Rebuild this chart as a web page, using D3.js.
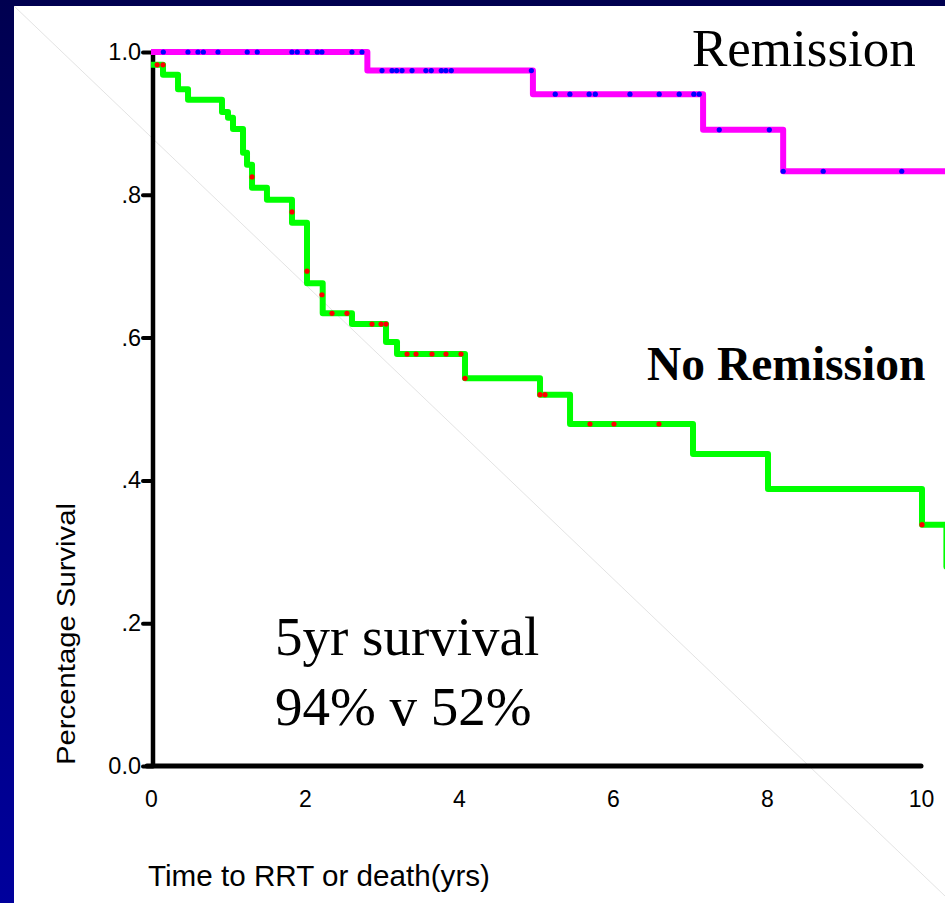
<!DOCTYPE html>
<html>
<head>
<meta charset="utf-8">
<script src="https://cdn.jsdelivr.net/npm/d3@7"></script>
<style>
  html, body { margin: 0; padding: 0; background: #fff; }
  svg { display: block; }
  .serif { font-family: "Times New Roman", "Liberation Serif", serif; }
  .sans { font-family: Arial, "Liberation Sans", sans-serif; }
</style>
</head>
<body>
<svg id="chart"></svg>
<script>
// axis ticks
const xTicks = [0, 2, 4, 6, 8, 10];
const xTickLabels = ['0', '2', '4', '6', '8', '10'];
const yTicks = [0, 0.2, 0.4, 0.6, 0.8, 1.0];
const yTickLabels = ['0.0', '.2', '.4', '.6', '.8', '1.0'];

// remission group: step times (yrs) and survival after each step
const remissionTimes = [0, 2.81, 4.96, 7.17, 8.21, 10.6];
const remissionSurv = [1.0, 0.974, 0.941, 0.891, 0.833, 0.833];
const remissionCensorTimes = [0.16, 0.48, 0.61, 0.68, 0.87, 1.25, 1.38, 1.83, 1.90, 2.03, 2.16, 2.22, 2.61, 2.74,
  3.0, 3.13, 3.19, 3.26, 3.39, 3.57, 3.64, 3.77, 3.83, 3.90, 4.94,
  5.25, 5.44, 5.69, 5.77, 6.22, 6.60, 6.86, 7.05, 7.12,
  7.38, 8.03, 8.21, 8.73, 9.75];
const remissionCensorSurv = [1, 1, 1, 1, 1, 1, 1, 1, 1, 1, 1, 1, 1, 1,
  0.974, 0.974, 0.974, 0.974, 0.974, 0.974, 0.974, 0.974, 0.974, 0.974, 0.974,
  0.941, 0.941, 0.941, 0.941, 0.941, 0.941, 0.941, 0.941, 0.941,
  0.891, 0.891, 0.833, 0.833, 0.833];

// no remission group
const noRemTimes = [0, 0.156, 0.351, 0.481, 0.922, 1.0, 1.065, 1.195, 1.247, 1.312, 1.506, 1.831, 2.026, 2.23,
  2.61, 3.052, 3.195, 4.078, 5.052, 5.442, 7.039, 8.013, 10.013, 10.33, 10.6];
const noRemSurv = [0.982, 0.968, 0.948, 0.933, 0.916, 0.908, 0.892, 0.859, 0.842, 0.810, 0.793, 0.761, 0.676, 0.634,
  0.619, 0.594, 0.577, 0.543, 0.520, 0.479, 0.437, 0.388, 0.338, 0.279, 0.279];
const noRemCensorTimes = [0.08, 0.156, 1.312, 1.831, 2.026, 2.22, 2.351, 2.545, 2.870, 2.987, 3.052,
  3.325, 3.442, 3.649, 3.831, 4.026, 4.078, 5.052, 5.117, 5.701, 6.013, 6.597, 10.013];
const noRemCensorSurv = [0.982, 0.982, 0.825, 0.776, 0.693, 0.660, 0.634, 0.634, 0.619, 0.619, 0.619,
  0.577, 0.577, 0.577, 0.577, 0.577, 0.543, 0.520, 0.520, 0.479, 0.479, 0.479, 0.338];

const W = 945, H = 903;

const svg = d3.select('#chart')
  .attr('width', W)
  .attr('height', H);

// slide frame
const defs = svg.append('defs');
const frame = defs.append('linearGradient')
  .attr('id', 'frame')
  .attr('x1', '0%').attr('x2', '0%')
  .attr('y1', '0%').attr('y2', '100%');
frame.append('stop').attr('offset', '0%').attr('stop-color', '#000050');
frame.append('stop').attr('offset', '100%').attr('stop-color', '#00009c');

svg.append('rect').attr('width', W).attr('height', H).attr('fill', 'url(#frame)');
svg.append('rect').attr('x', 14).attr('y', 6).attr('width', W - 14).attr('height', H - 6).attr('fill', '#fff');

// faint diagonal on the slide
svg.append('line')
  .attr('x1', 14).attr('y1', 6).attr('x2', W).attr('y2', 896)
  .attr('stroke', '#dcdcdc').attr('stroke-width', 0.8);

const x = d3.scaleLinear().domain([0, 10]).range([151, 921]);
const y = d3.scaleLinear().domain([0, 1]).range([766, 52]);

// y axis
const yAxis = svg.append('g')
  .attr('transform', `translate(${x(0) + 2},0)`)
  .call(d3.axisLeft(y)
    .tickValues(yTicks)
    .tickFormat((d, i) => yTickLabels[i])
    .tickSize(10)
    .tickPadding(2));
yAxis.select('.domain').remove();
yAxis.selectAll('.tick line')
  .attr('stroke', '#000')
  .attr('stroke-width', 4)
  .attr('stroke-linecap', 'round');
yAxis.selectAll('.tick text')
  .attr('class', 'sans')
  .style('font-size', '23.5px')
  .attr('fill', '#000')
  .attr('dy', '0.32em');
yAxis.append('line')
  .attr('x1', 0).attr('x2', 0)
  .attr('y1', y(1) - 1).attr('y2', y(0))
  .attr('stroke', '#000').attr('stroke-width', 4.5);

// x axis
const xAxis = svg.append('g')
  .attr('transform', `translate(0,${y(0)})`)
  .call(d3.axisBottom(x)
    .tickValues(xTicks)
    .tickFormat((d, i) => xTickLabels[i])
    .tickSize(0)
    .tickPadding(25));
xAxis.select('.domain').remove();
xAxis.selectAll('.tick text')
  .attr('class', 'sans')
  .style('font-size', '23px')
  .attr('fill', '#000');
xAxis.append('line')
  .attr('x1', x(0) - 4).attr('x2', x(10))
  .attr('y1', 0).attr('y2', 0)
  .attr('stroke', '#000').attr('stroke-width', 5)
  .attr('stroke-linecap', 'round');

// survival curves
const step = d3.line()
  .x(d => x(d[0]))
  .y(d => y(d[1]))
  .curve(d3.curveStepAfter);

svg.append('path')
  .datum(d3.zip(noRemTimes, noRemSurv))
  .attr('d', step)
  .attr('fill', 'none')
  .attr('stroke', '#00ff00')
  .attr('stroke-width', 6)
  .attr('stroke-linejoin', 'round');

svg.append('path')
  .datum(d3.zip(remissionTimes, remissionSurv))
  .attr('d', step)
  .attr('fill', 'none')
  .attr('stroke', '#ff00ff')
  .attr('stroke-width', 6)
  .attr('stroke-linejoin', 'round');

// censor marks
svg.append('g').selectAll('circle')
  .data(d3.zip(noRemCensorTimes, noRemCensorSurv))
  .join('circle')
  .attr('cx', d => x(d[0]))
  .attr('cy', d => y(d[1]))
  .attr('r', 2.6)
  .attr('fill', '#ff0000');

svg.append('g').selectAll('circle')
  .data(d3.zip(remissionCensorTimes, remissionCensorSurv))
  .join('circle')
  .attr('cx', d => x(d[0]))
  .attr('cy', d => y(d[1]))
  .attr('r', 2.6)
  .attr('fill', '#0000ff');

// labels
svg.append('text')
  .attr('class', 'sans')
  .attr('transform', 'translate(75,634) rotate(-90)')
  .attr('text-anchor', 'middle')
  .attr('font-size', 26)
  .attr('fill', '#000')
  .attr('textLength', 262)
  .attr('lengthAdjust', 'spacingAndGlyphs')
  .text('Percentage Survival');

svg.append('text')
  .attr('class', 'sans')
  .attr('x', 148).attr('y', 886)
  .attr('font-size', 29)
  .attr('fill', '#000')
  .attr('textLength', 342)
  .attr('lengthAdjust', 'spacingAndGlyphs')
  .text('Time to RRT or death(yrs)');

svg.append('text')
  .attr('class', 'serif')
  .attr('x', 692).attr('y', 66)
  .attr('font-size', 53)
  .text('Remission');

svg.append('text')
  .attr('class', 'serif')
  .attr('x', 647).attr('y', 380)
  .attr('font-size', 47.5)
  .attr('font-weight', 'bold')
  .text('No Remission');

svg.append('text')
  .attr('class', 'serif')
  .attr('x', 275).attr('y', 655)
  .attr('font-size', 55)
  .text('5yr survival');

svg.append('text')
  .attr('class', 'serif')
  .attr('x', 275).attr('y', 725)
  .attr('font-size', 55)
  .text('94% v 52%');
</script>
</body>
</html>
